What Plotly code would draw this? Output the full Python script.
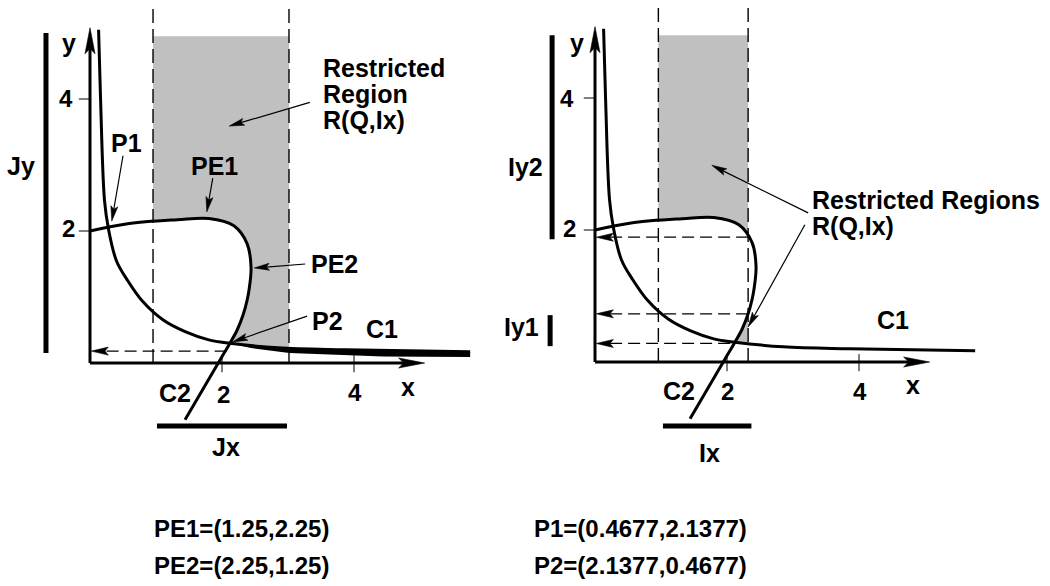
import math
import numpy as np
import plotly.graph_objects as go

# ---------------- data (plot units) ----------------
# C1 : hyperbola-like curve
c1_x = [0.13, 0.16, 0.22, 0.28, 0.40, 0.57, 0.80, 1.11, 1.45, 1.80, 2.12, 2.85, 3.86, 5.76]
c1_y = [5.05, 4.00, 2.46, 2.03, 1.55, 1.25, 0.93, 0.65, 0.47, 0.35, 0.30, 0.23, 0.20, 0.17]
# C2 : curve through PE1 / PE2
c2_x = [0.00, 0.57, 1.32, 1.80, 2.18, 2.38, 2.44, 2.41, 2.38, 2.32, 2.23, 2.12, 1.97, 1.44]
c2_y = [2.00, 2.11, 2.17, 2.19, 2.08, 1.81, 1.45, 1.11, 0.95, 0.73, 0.50, 0.30, 0.045, -0.86]
P2_IN_C1, P2_IN_C2 = 10, 11
# lower edge of the heavy C1 tail (left panel)
tail_low_x = [5.76, 4.44, 3.02, 2.42, 2.12]
tail_low_y = [0.09, 0.10, 0.15, 0.23, 0.30]

jx_strip = [0.955, 3.015]          # dashed limits, left panel
ix_strip = [0.96, 2.32]            # dashed limits, right panel
region_top = 4.95
strip_top = 5.45
jx_bar, jx_bar_y = [1.015, 2.985], -0.955
ix_bar, ix_bar_y = [1.03, 2.37], -0.97
jy_bar, jy_bar_x = [0.15, 5.00], -0.667
iy2_bar, iy2_bar_x = [1.86, 4.95], -0.65
iy1_bar, iy1_bar_x = [0.24, 0.71], -0.68
jy_proj = (2.07, 0.18)             # dashed projection, left panel
x_ticks = [2, 4]
y_ticks = [2, 4]
axis_end_x = 5.07
axis_end_y = 5.08

point_names = ["PE1", "PE2", "P1", "P2"]
point_coords = [(1.25, 2.25), (2.25, 1.25), (0.4677, 2.1377), (2.1377, 0.4677)]

# ---------------- figure ----------------
PPU = 66.0   # pixels per plot unit on both axes
FONT = "Liberation Sans, Arial, Helvetica, sans-serif"
GRAY = "#c0c0c0"
LBL = 25
TCK = 24
L = ("x", "y")
R = ("x2", "y2")

fig = go.Figure()


def add_line(xs, ys, ax, width=3.0, dash=None, shape="linear"):
    fig.add_trace(go.Scatter(x=list(xs), y=list(ys), mode="lines",
                             line=dict(color="black", width=width, dash=dash, shape=shape),
                             xaxis=ax[0], yaxis=ax[1], hoverinfo="skip", showlegend=False))


def add_fill(xs, ys, ax, color):
    fig.add_trace(go.Scatter(x=list(xs), y=list(ys), mode="lines", fill="toself",
                             fillcolor=color, line=dict(color=color, width=0),
                             xaxis=ax[0], yaxis=ax[1], hoverinfo="skip", showlegend=False))


def arrow(ax, x0, y0, x1, y1, lw, hl, hw, dash=None):
    dx, dy = x1 - x0, y1 - y0
    ln = math.hypot(dx, dy)
    ux, uy = dx / ln, dy / ln
    nx, ny = -uy, ux
    hlu, hwu = hl / PPU, hw / PPU
    bx, by = x1 - ux * hlu, y1 - uy * hlu
    kx, ky = x1 - ux * hlu * 0.8, y1 - uy * hlu * 0.8
    add_line([x0, kx], [y0, ky], ax, lw, dash)
    fig.add_trace(go.Scatter(
        x=[x1, bx + nx * hwu / 2, kx, bx - nx * hwu / 2, x1],
        y=[y1, by + ny * hwu / 2, ky, by - ny * hwu / 2, y1],
        mode="lines", fill="toself", fillcolor="black",
        line=dict(color="black", width=0.6),
        xaxis=ax[0], yaxis=ax[1], hoverinfo="skip", showlegend=False))


def c1_at(x):
    return float(np.interp(x, c1_x, c1_y))


def pe_upper(x):
    return float(np.interp(x, c2_x[:7], c2_y[:7]))


def pe_lower(x):
    xs = c2_x[6:13][::-1]
    ys = c2_y[6:13][::-1]
    return float(np.interp(x, xs, ys))


# ---- gray restricted regions ----
# left panel
xl, xr = jx_strip
gx = [xl, xr, xr]
gy = [region_top, region_top, c1_at(xr)]
for i in range(len(c1_x) - 1, P2_IN_C1, -1):
    if xl < c1_x[i] < xr:
        gx.append(c1_x[i]); gy.append(c1_y[i])
for i in range(P2_IN_C2, 1, -1):
    if c2_x[i] > xl:
        gx.append(c2_x[i]); gy.append(c2_y[i])
gx.append(xl); gy.append(pe_upper(xl))
add_fill(gx, gy, L, GRAY)

# right panel, upper block
xl, xr = ix_strip
gx = [xl, xr, xr]
gy = [region_top, region_top, pe_upper(xr)]
for i in range(5, 1, -1):
    if xl < c2_x[i] < xr:
        gx.append(c2_x[i]); gy.append(c2_y[i])
gx.append(xl); gy.append(pe_upper(xl))
add_fill(gx, gy, R, GRAY)
# right panel, small sliver near P2
sx = [xr, xr, c2_x[P2_IN_C2]]
sy = [pe_lower(xr), c1_at(xr), c2_y[P2_IN_C2]]
for i in range(P2_IN_C2 - 1, 6, -1):
    if c2_x[i] < xr:
        sx.append(c2_x[i]); sy.append(c2_y[i])
add_fill(sx, sy, R, GRAY)

# ---- dashed strip limits ----
for x in jx_strip:
    add_line([x, x], [0, strip_top], L, 1.4, "14px,6px")
for x in ix_strip:
    add_line([x, x], [0, strip_top], R, 1.4, "14px,6px")

# ---- dashed projections with arrows onto the y axis ----
arrow(L, jy_proj[0], jy_proj[1], 0.02, jy_proj[1], 1.2, 17, 8, "12px,6px")
xr = ix_strip[1]
for yy in [pe_upper(xr), pe_lower(xr), c1_at(xr)]:
    arrow(R, xr, yy, 0.02, yy, 1.2, 17, 8, "12px,6px")

# ---- curves ----
for ax in (L, R):
    add_line(c1_x, c1_y, ax, 3.0, None, "spline")
    add_line(c2_x, c2_y, ax, 3.0, None, "spline")
# heavy tail of C1 in left panel
tx = c1_x[P2_IN_C1:] + tail_low_x
ty = c1_y[P2_IN_C1:] + tail_low_y
add_fill(tx, ty, L, "black")

# ---- axes with arrow heads and ticks ----
for ax in (L, R):
    arrow(ax, 0, 0, axis_end_x, 0, 3.0, 26, 10)
    arrow(ax, 0, 0, 0, axis_end_y, 3.0, 26, 10)
    for t in x_ticks:
        add_line([t, t], [-0.14, 0.12], ax, 1.0)
    for t in y_ticks:
        add_line([-0.17, 0], [t, t], ax, 1.0)

# ---- interval bars ----
add_line(jx_bar, [jx_bar_y] * 2, L, 5.0)
add_line([jy_bar_x] * 2, jy_bar, L, 5.0)
add_line(ix_bar, [ix_bar_y] * 2, R, 5.0)
add_line([iy2_bar_x] * 2, iy2_bar, R, 5.0)
add_line([iy1_bar_x] * 2, iy1_bar, R, 5.0)

# ---- label arrows ----
arrow(L, 0.50, 3.14, 0.33, 2.15, 1.2, 15, 7)    # P1
arrow(L, 1.86, 2.80, 1.77, 2.29, 1.2, 15, 7)    # PE1
arrow(L, 3.33, 3.95, 2.11, 3.59, 1.2, 15, 7)    # Restricted Region
arrow(L, 3.26, 1.50, 2.49, 1.44, 1.2, 15, 7)    # PE2
arrow(L, 3.29, 0.71, 2.16, 0.32, 1.2, 15, 7)    # P2
arrow(R, 3.23, 2.26, 1.77, 2.98, 1.2, 15, 7)    # upper restricted region
arrow(R, 3.18, 2.08, 2.32, 0.53, 1.2, 15, 7)    # sliver

# ---- texts ----
ann = []


def txt(ax, x, y, s, size=LBL, xanchor="center"):
    ann.append(dict(xref=ax[0], yref=ax[1], x=x, y=y, text="<b>%s</b>" % s,
                    showarrow=False, xanchor=xanchor, yanchor="middle",
                    font=dict(family=FONT, size=size, color="black")))


# left panel
txt(L, -0.32, 4.85, "y")
txt(L, -0.36, 4.01, str(y_ticks[1]), TCK)
txt(L, -0.33, 2.04, str(y_ticks[0]), TCK)
txt(L, -1.045, 2.98, "Jy")
txt(L, 0.55, 3.33, "P1")
txt(L, 1.89, 2.98, "PE1")
txt(L, 3.70, 1.50, "PE2")
txt(L, 3.60, 0.64, "P2")
txt(L, 4.42, 0.52, "C1")
txt(L, 4.82, -0.36, "x")
txt(L, 4.02, -0.45, str(x_ticks[1]), TCK)
txt(L, 2.03, -0.48, str(x_ticks[0]), TCK)
txt(L, 1.29, -0.45, "C2")
txt(L, 2.06, -1.27, "Jx")
txt(L, 3.50, 4.476, "Restricted", xanchor="left")
txt(L, 3.50, 4.076, "Region", xanchor="left")
txt(L, 3.50, 3.676, "R(Q,Ix)", xanchor="left")

# right panel
txt(R, -0.27, 4.83, "y")
txt(R, -0.42, 4.00, str(y_ticks[1]), TCK)
txt(R, -0.39, 2.02, str(y_ticks[0]), TCK)
txt(R, -1.06, 2.95, "Iy2")
txt(R, -1.11, 0.53, "Iy1")
txt(R, 3.26, 2.46, "Restricted Regions", xanchor="left")
txt(R, 3.26, 2.06, "R(Q,Ix)", xanchor="left")
txt(R, 4.52, 0.64, "C1")
txt(R, 4.82, -0.35, "x")
txt(R, 4.02, -0.45, str(x_ticks[1]), TCK)
txt(R, 2.00, -0.45, str(x_ticks[0]), TCK)
txt(R, 1.27, -0.44, "C2")
txt(R, 1.74, -1.38, "Ix")

# bottom coordinates
bottom_pos = [(0.1448, 0.0973), (0.1448, 0.0358), (0.5067, 0.0973), (0.5067, 0.0358)]
for name, (px, py), (bx, by) in zip(point_names, point_coords, bottom_pos):
    ann.append(dict(xref="paper", yref="paper", x=bx, y=by,
                    text="<b>%s=(%s,%s)</b>" % (name, px, py), showarrow=False,
                    xanchor="left", yanchor="middle",
                    font=dict(family=FONT, size=24, color="black")))

fig.update_layout(
    width=1050, height=586,
    margin=dict(l=0, r=0, t=0, b=0, pad=0),
    paper_bgcolor="white", plot_bgcolor="white",
    showlegend=False,
    annotations=ann,
    xaxis=dict(domain=[0, 0.48], range=[-90 / PPU, 414 / PPU], visible=False, fixedrange=True),
    yaxis=dict(domain=[0, 1], range=[(363 - 586) / PPU, 363 / PPU], visible=False, fixedrange=True),
    xaxis2=dict(domain=[0.48, 1], range=[(504 - 595) / PPU, 455 / PPU], visible=False, fixedrange=True),
    yaxis2=dict(domain=[0, 1], range=[(362 - 586) / PPU, 362 / PPU], visible=False, fixedrange=True),
)

fig.write_html("out.html", config={"displayModeBar": False},
               post_script="document.body.style.margin='0';document.body.style.overflow='hidden';")
